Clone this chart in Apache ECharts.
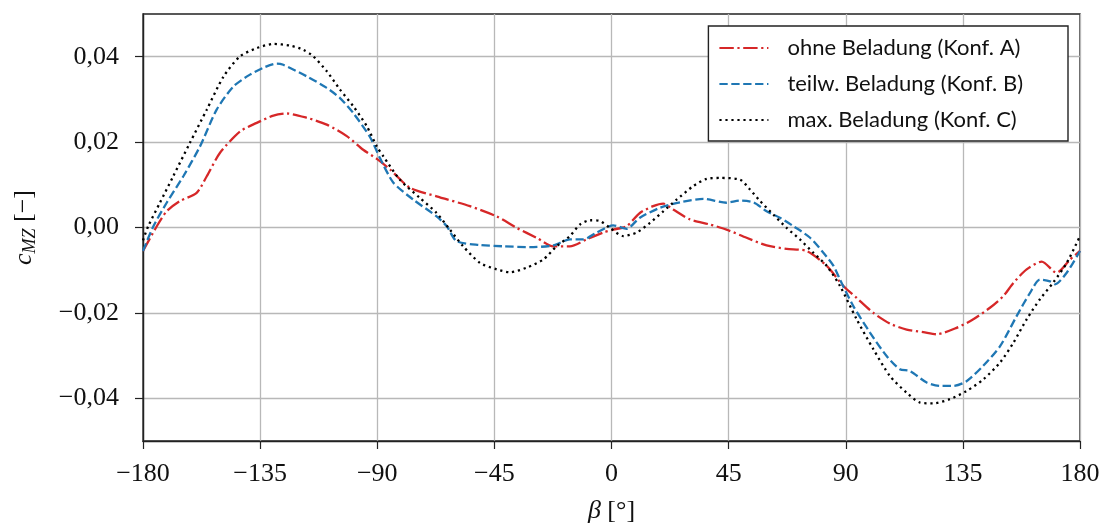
<!DOCTYPE html>
<html>
<head>
<meta charset="utf-8">
<script src="https://cdn.jsdelivr.net/npm/echarts@6/dist/echarts.min.js"></script>
<style>html,body{margin:0;padding:0;background:#fff}#c{width:1107px;height:531px}</style>
</head>
<body>
<div id="c"></div>
<script>
const seriesNames = ['ohne Beladung (Konf. A)', 'teilw. Beladung (Konf. B)', 'max. Beladung (Konf. C)'];
const xTicks = [-180, -135, -90, -45, 0, 45, 90, 135, 180];
const yTicks = [-0.04, -0.02, 0, 0.02, 0.04];

const betaA = [-180,-174.7,-170.9,-165.8,-159.4,-155.5,-150.4,-142.7,-136.3,-129.9,-124.8,-117.1,-109.4,-101.7,-95.4,-90,-85.1,-77.4,-67.2,-54.4,-44.1,-36.4,-28.8,-22.4,-16,-9.6,-3.2,0.65,5.8,10.9,16,19.9,23.7,30.1,37.8,44.2,51.9,59.6,67.3,75,82.7,89.1,94.2,100.6,107,113.4,119.8,124.9,132.6,139,145.4,150.5,154.4,159.5,165.3,171,176.2,180];
const cmzA = [-0.0055,0.0003,0.0038,0.0062,0.0081,0.012,0.0175,0.0225,0.0245,0.0262,0.0267,0.0257,0.0241,0.0214,0.0182,0.016,0.0136,0.0093,0.0073,0.005,0.0026,-0.0001,-0.0024,-0.0044,-0.0044,-0.0028,-0.0012,-0.0005,0.0003,0.0034,0.005,0.0056,0.0042,0.0019,0.0007,-0.0005,-0.0024,-0.0042,-0.005,-0.0055,-0.009,-0.0137,-0.0165,-0.02,-0.0225,-0.0239,-0.0245,-0.025,-0.0235,-0.0215,-0.0188,-0.0161,-0.013,-0.0098,-0.008,-0.0106,-0.0075,-0.0055];

const betaB = [-180,-176,-170.9,-164.5,-158.1,-151.7,-145.3,-138.9,-133.8,-128.6,-126.1,-117.1,-109.4,-104.3,-99.2,-92.8,-88.9,-83.8,-76.1,-67.2,-63.3,-59.5,-50.5,-41.6,-31.3,-22.4,-16,-10.9,-5.7,0.65,5.8,10.9,18.6,26.3,35.3,44.2,49.4,54.5,59.6,64.7,69.9,76.3,81.4,85.3,87.8,92.9,99.3,105.7,110.8,114.6,121.1,126.2,131.3,136.4,142.8,149.3,155.7,160.8,164.6,168.5,170.4,174.9,180];
const cmzB = [-0.0055,0.0003,0.0058,0.012,0.019,0.0276,0.033,0.0358,0.0374,0.0384,0.0381,0.0354,0.0327,0.0303,0.0268,0.0212,0.0162,0.0105,0.0065,0.0026,0.0003,-0.0032,-0.0041,-0.0044,-0.0046,-0.0042,-0.0028,-0.0028,-0.0012,0.0005,-0.0003,0.0023,0.0046,0.0059,0.0067,0.0058,0.0063,0.0059,0.0038,0.0023,0.0003,-0.0024,-0.0059,-0.009,-0.0122,-0.0184,-0.0246,-0.0301,-0.0332,-0.0336,-0.0363,-0.0371,-0.0371,-0.036,-0.0324,-0.0278,-0.0207,-0.0153,-0.0122,-0.0126,-0.0133,-0.0106,-0.0055];

const betaC = [-180,-178,-173.5,-168.4,-162,-155.5,-149,-142.7,-136.3,-129.9,-123.5,-118.4,-114.6,-109.4,-104.3,-99.2,-94,-90.2,-87.7,-81.3,-73.6,-67.2,-62.1,-57,-50.5,-44.1,-39,-32.6,-26.2,-21.1,-16,-12.1,-8.3,-4.4,-0.6,4.5,9.6,14.8,19.9,25,31.4,36.6,41.7,49.4,53.2,57.1,62.2,67.3,72.4,77.5,82.7,87.8,94.2,100.6,107,113.4,118.5,123.6,130,136.4,142.8,149.3,154.4,159.5,164.6,169.7,174.9,180];
const cmzC = [-0.003,0.0003,0.0058,0.012,0.0198,0.0276,0.0354,0.0401,0.042,0.043,0.0426,0.0416,0.0401,0.0366,0.0323,0.0284,0.0237,0.019,0.0167,0.0112,0.0069,0.0034,-0.0005,-0.0044,-0.0083,-0.0098,-0.0105,-0.0094,-0.0075,-0.0044,-0.002,0.0007,0.0017,0.0015,-0.0001,-0.002,-0.0012,0.0011,0.0038,0.0065,0.0097,0.0114,0.0116,0.0112,0.0089,0.0062,0.003,-0.0001,-0.0028,-0.0059,-0.009,-0.0137,-0.0215,-0.0285,-0.0348,-0.0387,-0.041,-0.0412,-0.0402,-0.0383,-0.0356,-0.0316,-0.027,-0.0215,-0.0168,-0.0129,-0.0083,-0.002];

const zip = (xs, ys) => xs.map((x, i) => [x, ys[i]]);
const serifFont = '"Liberation Serif", "DejaVu Serif", serif';
const sansFont = 'Lato, "Open Sans", "Noto Sans", sans-serif';
const minus = s => s.replace('-', '\u2212');

const chart = echarts.init(document.getElementById('c'), null, {renderer: 'canvas'});
const mk = (name, data, color, dash) => ({
  name, type: 'line', data, showSymbol: false, symbol: 'none', smooth: 0.25,
  lineStyle: {color, width: 2.3, type: dash},
  itemStyle: {color},
  z: 3
});

chart.setOption({
  animation: false,
  backgroundColor: '#fff',
  grid: {left: 143, right: 27, top: 14, bottom: 90, show: true, borderColor: '#222', borderWidth: 1.4, backgroundColor: 'transparent'},
  legend: {
    show: true,
    orient: 'vertical', right: 39, top: 26,
    data: seriesNames,
    itemWidth: 49, itemHeight: 14, itemGap: 12,
    padding: [10, 45, 9, 10],
    borderColor: '#222', borderWidth: 1.4, borderRadius: 0,
    backgroundColor: '#fff',
    itemStyle: {opacity: 0},
    textStyle: {fontFamily: sansFont, fontSize: 22, color: '#111', padding: [0, 0, 0, 14], lineHeight: 24}
  },
  xAxis: {
    type: 'value', min: -180, max: 180, interval: 45,
    name: '{i|β} [°]', nameLocation: 'middle', nameGap: 57,
    nameTextStyle: {fontFamily: serifFont, fontSize: 26, color: '#111',
      rich: {i: {fontFamily: serifFont, fontStyle: 'italic', fontSize: 26, color: '#111'}}},
    axisLine: {show: true, onZero: false, lineStyle: {color: '#222', width: 1.4}},
    axisTick: {show: true, length: 8, inside: false, lineStyle: {color: '#222', width: 1.2}},
    axisLabel: {fontFamily: serifFont, fontSize: 26, color: '#111', margin: 20, formatter: v => minus(String(v))},
    splitLine: {show: true, lineStyle: {color: '#b8b8b8', width: 1.3}}
  },
  yAxis: {
    type: 'value', min: -0.05, max: 0.05,
    name: '{i|c}{s|MZ} [−]', nameLocation: 'middle', nameGap: 104, nameRotate: 90,
    nameTextStyle: {fontFamily: serifFont, fontSize: 26, color: '#111',
      rich: {
        i: {fontFamily: serifFont, fontStyle: 'italic', fontSize: 26, color: '#111'},
        s: {fontFamily: serifFont, fontStyle: 'italic', fontSize: 18, color: '#111', padding: [12, 0, 0, 0]}
      }},
    axisLine: {show: true, onZero: false, lineStyle: {color: '#222', width: 1.4}},
    axisTick: {show: true, length: 8, customValues: yTicks, lineStyle: {color: '#222', width: 1.2}},
    axisLabel: {fontFamily: serifFont, fontSize: 26, color: '#111', margin: 24, customValues: yTicks,
      formatter: v => minus(v.toFixed(2).replace('.', ','))},
    splitLine: {show: true, lineStyle: {color: '#b8b8b8', width: 1.3}}
  },
  series: [
    mk(seriesNames[0], zip(betaA, cmzA), '#d62728', [14.4, 3.6, 2.2, 3.6]),
    mk(seriesNames[1], zip(betaB, cmzB), '#1f77b4', [8.3, 3.6]),
    mk(seriesNames[2], zip(betaC, cmzC), '#000000', [2.2, 3.8])
  ]
});
</script>
</body>
</html>
